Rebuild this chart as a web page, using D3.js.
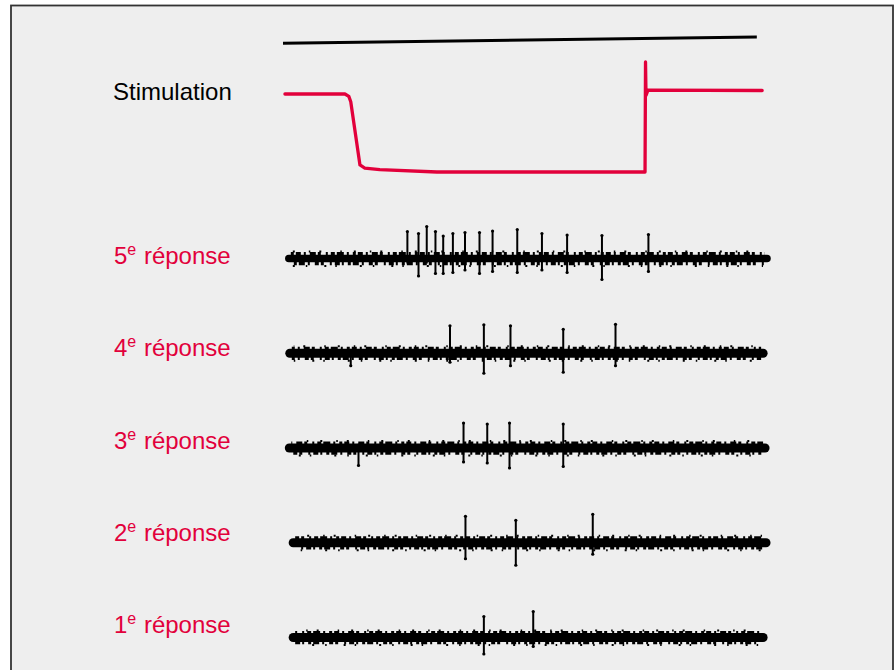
<!DOCTYPE html>
<html>
<head>
<meta charset="utf-8">
<script src="https://cdn.jsdelivr.net/npm/d3@7"></script>
<style>
  html, body { margin: 0; padding: 0; background: #ffffff; }
  svg { display: block; }
  text { font-family: "Liberation Sans", Arial, Helvetica, sans-serif; }
</style>
</head>
<body>
<script>
// ---------- DATA ----------
// time axis in arbitrary units (0-100) common to all traces
const timeMarker = [ {t: 0.0, v: 65}, {t: 97.9, v: 73} ];           // black line at top
const stimulation = [                                                 // red stimulation trace
  {t: 0.4, v: 0}, {t: 12.8, v: 0}, {t: 13.6, v: -3}, {t: 14.0, v: -10},
  {t: 15.9, v: -91}, {t: 16.9, v: -95}, {t: 20.0, v: -97}, {t: 31.8, v: -100},
  {t: 74.8, v: -100}, {t: 74.9, v: 41}, {t: 75.0, v: -2}, {t: 75.4, v: 5},
  {t: 99.0, v: 4.5}
];
const rows = ["5e", "4e", "3e", "2e", "1e"];
const rowLabels = ["5", "4", "3", "2", "1"];
const traceStart = [1.2, 1.4, 1.3, 2.1, 2.1];
const traceEnd   = [100, 99.2, 99.6, 99.8, 99.2];
// spikes: t = time, up = upward deflection (µV), down = downward deflection (µV)
const spikes5 = [
  {t: 25.7, up: 54, down: 10}, {t: 28.0, up: 50, down: 35}, {t: 29.7, up: 64, down: 10},
  {t: 31.5, up: 54, down: 30}, {t: 33.1, up: 45, down: 30}, {t: 35.1, up: 50, down: 28},
  {t: 37.6, up: 52, down: 23}, {t: 40.6, up: 52, down: 30}, {t: 43.3, up: 55, down: 26},
  {t: 48.4, up: 58, down: 28}, {t: 53.5, up: 50, down: 23}, {t: 58.7, up: 47, down: 28},
  {t: 65.9, up: 46, down: 42}, {t: 75.5, up: 48, down: 26}
];
const spikes4 = [
  {t: 14.0, up: 6, down: 25},
  {t: 34.5, up: 55, down: 18}, {t: 41.5, up: 57, down: 40}, {t: 47.0, up: 55, down: 25},
  {t: 57.9, up: 48, down: 38}, {t: 68.7, up: 58, down: 25}
];
const spikes3 = [
  {t: 15.6, up: 6, down: 35},
  {t: 37.3, up: 50, down: 28}, {t: 42.2, up: 48, down: 30}, {t: 46.8, up: 50, down: 40},
  {t: 57.9, up: 48, down: 37}
];
const spikes2 = [
  {t: 37.7, up: 53, down: 32}, {t: 48.1, up: 45, down: 45}, {t: 64.0, up: 57, down: 23}
];
const spikes1 = [
  {t: 41.5, up: 42, down: 33}, {t: 51.7, up: 52, down: 18}
];
const allSpikes = [spikes5, spikes4, spikes3, spikes2, spikes1];

// ---------- DRAW ----------
const W = 896, H = 670;
const red = "#e2003b";
const svg = d3.select("body").append("svg").attr("width", W).attr("height", H);

svg.append("rect").attr("x", 11).attr("y", 5.5).attr("width", 882).attr("height", 700)
  .attr("fill", "#eeeeee").attr("stroke", "#333").attr("stroke-width", 1.8);

const x = d3.scaleLinear().domain([0, 100]).range([283, 767]);
const yStim = d3.scaleLinear().domain([-100, 0]).range([172, 94]);
const rowY = d3.scalePoint().domain(rows).range([258.5, 637.5]);
const labelY = d3.scalePoint().domain(rows).range([264, 633]);
const amp = d3.scaleLinear().domain([-70, 70]).range([35, -35]);

// time marker line
svg.append("path").datum(timeMarker)
  .attr("d", d3.line().x(d => x(d.t)).y(d => yStim(d.v)))
  .attr("fill", "none").attr("stroke", "#000").attr("stroke-width", 3);

// stimulation trace
svg.append("path").datum(stimulation)
  .attr("d", d3.line().x(d => x(d.t)).y(d => yStim(d.v)))
  .attr("fill", "none").attr("stroke", red).attr("stroke-width", 3.3)
  .attr("stroke-linejoin", "round").attr("stroke-linecap", "round");

svg.append("text").attr("x", 113).attr("y", 99.5)
  .attr("font-size", 24).attr("fill", "#000").text("Stimulation");

const topDash = "3 2 5 3 2 4 6 2 3 5 2 3 4 2 7 3 2 4";
const botDash = "2 4 3 2 6 3 2 5 4 2 3 6 2 3 5 2";

// response traces
rows.forEach((r, i) => {
  const cy = rowY(r);
  const g = svg.append("g");
  const x0 = x(traceStart[i]), x1 = x(traceEnd[i]);
  // main noisy band
  g.append("line").attr("x1", x0).attr("x2", x1).attr("y1", cy).attr("y2", cy)
    .attr("stroke", "#000").attr("stroke-width", i === 0 ? 7.5 : 9).attr("stroke-linecap", "round");
  // jagged noise edges
  g.append("line").attr("x1", x0 + 2).attr("x2", x1 - 2).attr("y1", cy - 5).attr("y2", cy - 5)
    .attr("stroke", "#000").attr("stroke-width", 2.8)
    .attr("stroke-dasharray", topDash).attr("stroke-dashoffset", i * 7);
  g.append("line").attr("x1", x0 + 2).attr("x2", x1 - 2).attr("y1", cy + 5.2).attr("y2", cy + 5.2)
    .attr("stroke", "#000").attr("stroke-width", 3.2)
    .attr("stroke-dasharray", botDash).attr("stroke-dashoffset", i * 11 + 3);
  g.append("line").attr("x1", x0 + 4).attr("x2", x1 - 4).attr("y1", cy + 7.5).attr("y2", cy + 7.5)
    .attr("stroke", "#000").attr("stroke-width", 2)
    .attr("stroke-dasharray", "2 11 1.5 17 2 9 1.5 23")
    .attr("stroke-dashoffset", i * 13);
  g.append("line").attr("x1", x0 + 4).attr("x2", x1 - 4).attr("y1", cy - 7).attr("y2", cy - 7)
    .attr("stroke", "#000").attr("stroke-width", 2)
    .attr("stroke-dasharray", "2 14 1.5 9 2 19 1.5 12")
    .attr("stroke-dashoffset", i * 17);
  // spikes
  const sp = g.selectAll(".spike").data(allSpikes[i]).join("g").attr("class", "spike");
  sp.append("line")
    .attr("x1", d => x(d.t)).attr("x2", d => x(d.t))
    .attr("y1", d => cy + amp(d.up)).attr("y2", d => cy + amp(-d.down))
    .attr("stroke", "#000").attr("stroke-width", 2);
  sp.append("circle").attr("cx", d => x(d.t)).attr("cy", d => cy + amp(d.up))
    .attr("r", 1.6).attr("fill", "#000");
  sp.filter(d => d.down > 15).append("circle").attr("cx", d => x(d.t)).attr("cy", d => cy + amp(-d.down))
    .attr("r", 1.6).attr("fill", "#000");

  // label
  const t = svg.append("text").attr("x", 114).attr("y", labelY(r))
    .attr("font-size", 24).attr("fill", red);
  t.append("tspan").text(rowLabels[i]);
  t.append("tspan").attr("font-size", 16).attr("dy", -9).text("e");
  t.append("tspan").attr("dy", 9).attr("dx", 1).text(" réponse");
});
</script>
</body>
</html>
